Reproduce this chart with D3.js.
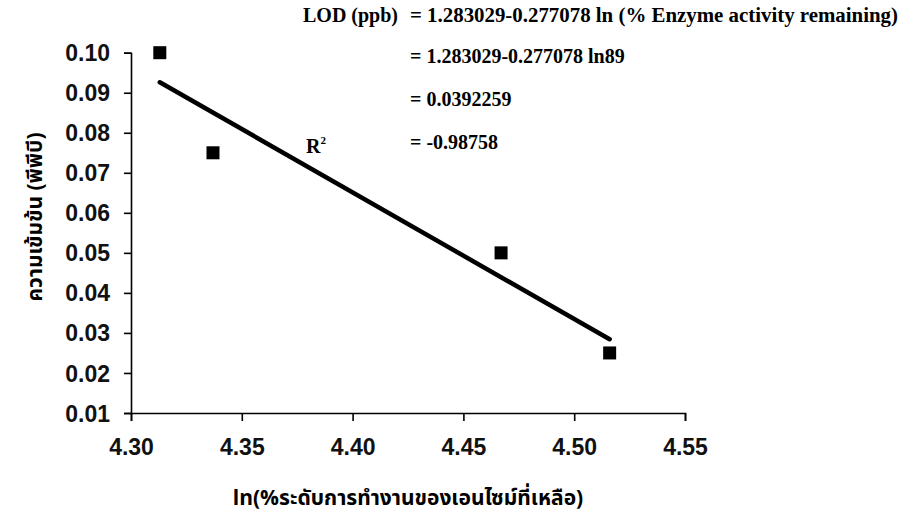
<!DOCTYPE html>
<html>
<head>
<meta charset="utf-8">
<script src="https://cdn.jsdelivr.net/npm/d3@7"></script>
<style>
  body { margin: 0; background: #fff; }
  svg { display: block; }
</style>
</head>
<body>
<div id="chart"></div>
<script>
// ค่าที่อ่านจากกราฟ
const lnActivity = [4.313, 4.337, 4.467, 4.516];
const concentration = [0.100, 0.075, 0.050, 0.025];
const xTicks = [4.30, 4.35, 4.40, 4.45, 4.50, 4.55];
const yTicks = [0.01, 0.02, 0.03, 0.04, 0.05, 0.06, 0.07, 0.08, 0.09, 0.10];
const eqLines = [
    "= 1.283029-0.277078 ln (% Enzyme activity  remaining)",
    "= 1.283029-0.277078 ln89",
    "= 0.0392259",
    "= -0.98758"
];

const W = 902, H = 521;
const thai = "'Noto Sans Thai', 'Noto Serif Thai', 'Loma', 'Garuda', 'Norasi', 'DejaVu Sans', sans-serif";

const svg = d3.select("#chart").append("svg")
    .attr("width", W)
    .attr("height", H);

const x = d3.scaleLinear().domain([4.30, 4.55]).range([131, 685]);
const y = d3.scaleLinear().domain([0.01, 0.10]).range([413, 52.7]);

// y axis
const yAxis = svg.append("g")
    .attr("transform", "translate(" + x(4.30) + ",0)")
    .call(d3.axisLeft(y).tickValues(yTicks).tickFormat(d3.format(".2f")).tickSize(7).tickPadding(14));

// x axis
const xAxis = svg.append("g")
    .attr("transform", "translate(0," + y(0.01) + ")")
    .call(d3.axisBottom(x).tickValues(xTicks).tickFormat(d3.format(".2f")).tickSize(8).tickPadding(17));

[yAxis, xAxis].forEach(g => {
    g.select(".domain").attr("stroke", "#000").attr("stroke-width", 1.6);
    g.selectAll(".tick line").attr("stroke", "#000").attr("stroke-width", 1.6);
    g.selectAll(".tick text")
        .attr("fill", "#111")
        .style("font-family", "'Liberation Sans', Arial, sans-serif")
        .style("font-weight", "bold")
        .style("font-size", "23px");
});
yAxis.selectAll(".tick text").attr("dy", "0.35em");
xAxis.selectAll(".tick text").attr("dy", "0.72em");

// linear fit (least squares)
const mx = d3.mean(lnActivity), my = d3.mean(concentration);
let sxy = 0, sxx = 0;
lnActivity.forEach((v, i) => {
    sxy += (v - mx) * (concentration[i] - my);
    sxx += (v - mx) * (v - mx);
});
const slope = sxy / sxx;
const fit = d3.extent(lnActivity).map(v => [v, my + slope * (v - mx)]);

svg.append("path")
    .datum(fit)
    .attr("fill", "none")
    .attr("stroke", "#000")
    .attr("stroke-width", 4.5)
    .attr("stroke-linecap", "round")
    .attr("d", d3.line().x(d => x(d[0])).y(d => y(d[1])));

// data points
svg.append("g")
    .selectAll("rect")
    .data(lnActivity.map((v, i) => [v, concentration[i]]))
    .join("rect")
    .attr("x", d => x(d[0]) - 6.5)
    .attr("y", d => y(d[1]) - 6.5)
    .attr("width", 13)
    .attr("height", 13)
    .attr("fill", "#000");

// equation text
const serif = "'Liberation Serif', 'Times New Roman', serif";
const eq = svg.append("g")
    .style("font-family", serif)
    .style("font-weight", "bold")
    .style("font-size", "20px")
    .style("white-space", "pre")
    .attr("fill", "#000");

eq.append("text")
    .attr("x", 303).attr("y", 22)
    .text("LOD (ppb)");

const eqY = [22, 63, 106, 149];
eq.selectAll("text.eq")
    .data(eqLines)
    .join("text")
    .attr("class", "eq")
    .attr("x", 410)
    .attr("y", (d, i) => eqY[i])
    .text(d => d)
    .filter((d, i) => i === 0)
    .attr("textLength", 488)
    .attr("lengthAdjust", "spacingAndGlyphs");

const r2 = eq.append("text")
    .attr("x", 306).attr("y", 153);
r2.append("tspan").text("R");
r2.append("tspan").attr("dy", -9).style("font-size", "11px").text("2");

// axis titles
svg.append("text")
    .attr("transform", "translate(42,217) rotate(-90)")
    .attr("text-anchor", "middle")
    .style("font-family", thai)
    .style("font-weight", "bold")
    .style("font-size", "21px")
    .text("ความเข้มข้น (พีพีบี)");

svg.append("text")
    .attr("x", 408).attr("y", 505)
    .attr("text-anchor", "middle")
    .style("font-family", thai)
    .style("font-weight", "bold")
    .style("font-size", "21px")
    .text("ln(%ระดับการทำงานของเอนไซม์ที่เหลือ)");
</script>
</body>
</html>
